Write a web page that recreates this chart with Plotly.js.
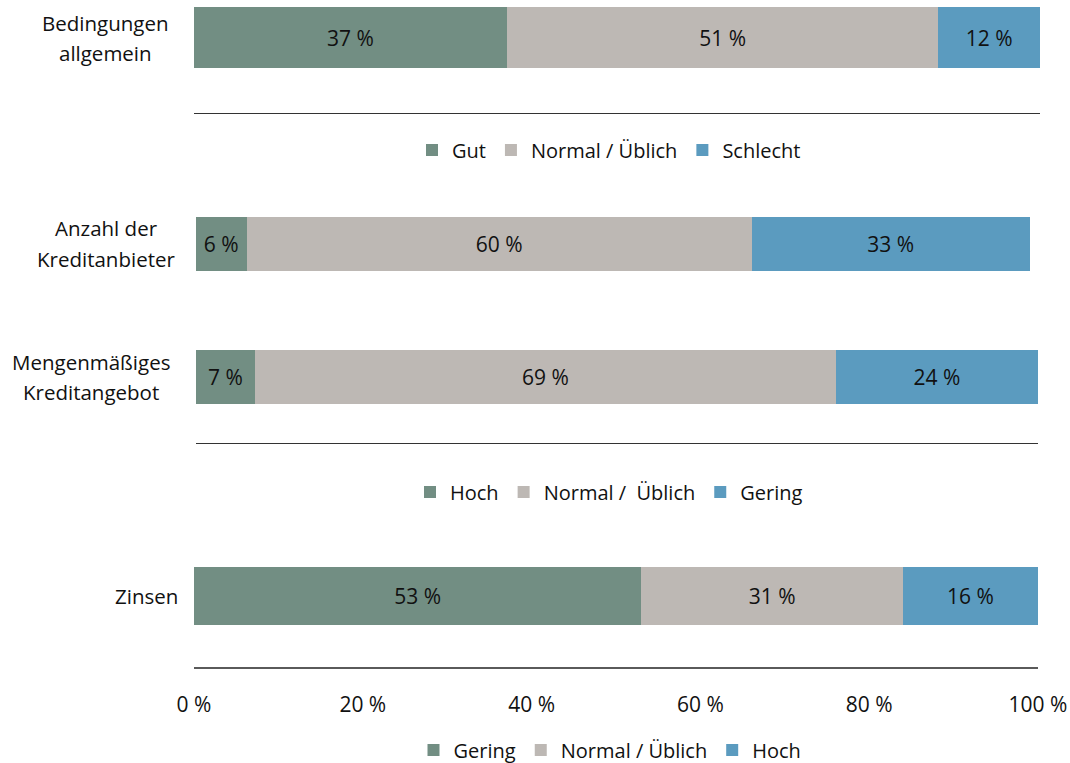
<!DOCTYPE html>
<html>
<head>
<meta charset="utf-8">
<script src="https://cdn.plot.ly/plotly-3.0.1.min.js"></script>
<style>
  html, body { margin: 0; padding: 0; background: #ffffff; }
  #chart { width: 1070px; height: 763px; }
</style>
</head>
<body>
<div id="chart"></div>
<script>
// ---- Data ----
// Panel 1: general conditions
const cat1 = ["Bedingungen\nallgemein"];
const names1 = ["Gut", "Normal / Üblich", "Schlecht"];
const gut1 = [37];
const normal1 = [51];
const schlecht1 = [12];

// Panel 2: number of lenders / credit supply
const cat2 = ["Mengenmäßiges\nKreditangebot", "Anzahl der\nKreditanbieter"];
const names2 = ["Hoch", "Normal /\u00a0 Üblich", "Gering"];
const hoch2 = [7, 6];
const normal2 = [69, 60];
const gering2 = [24, 33];

// Panel 3: interest rates
const cat3 = ["Zinsen"];
const names3 = ["Gering", "Normal / Üblich", "Hoch"];
const gering3 = [53];
const normal3 = [31];
const hoch3 = [16];

// Axis ticks (shared scale 0–100 %)
const tickVals = [0, 20, 40, 60, 80, 100];
const tickText = ["0 %", "20 %", "40 %", "60 %", "80 %", "100 %"];

// ---- Styling ----
const W = 1070, H = 763;
const COLORS = ["#728e83", "#bdb8b4", "#5b9bbf"];
const FONT = "Open Sans, Liberation Sans, Arial, sans-serif";
const TXT = "#111111";
const px = v => v / W;
const py = v => 1 - v / H;

// vertical band of a panel: top/bottom pixel of the plot area, with
// category centres given in pixels (bottom-most category first)
function yBand(topPx, botPx, centersPx) {
  const unit = centersPx.length > 1 ? (centersPx[0] - centersPx[1]) : 100;
  return {
    domain: [py(botPx), py(topPx)],
    range: [-(botPx - centersPx[0]) / unit, (centersPx.length - 1) + (centersPx[centersPx.length - 1] - topPx) / unit],
    unit: unit
  };
}

const b1 = yBand(0, 113, [37.5]);
const b2 = yBand(180, 443, [377, 243.5]);
const b3 = yBand(530, 667, [596]);

function bars(cats, series, names, xa, ya, legend, barPx, unit) {
  return series.map((vals, i) => ({
    type: "bar",
    orientation: "h",
    y: cats,
    x: vals,
    name: names[i],
    xaxis: xa,
    yaxis: ya,
    legend: legend,
    width: barPx / unit,
    marker: { color: COLORS[i], line: { width: 0 } },
    texttemplate: "%{x} %",
    textposition: "inside",
    insidetextanchor: "middle",
    constraintext: "none",
    textfont: { family: FONT, size: 21, color: TXT },
    hoverinfo: "skip"
  }));
}

const traces = [
  ...bars(cat1, [gut1, normal1, schlecht1], names1, "x", "y", "legend", 61, b1.unit),
  ...bars(cat2, [hoch2, normal2, gering2], names2, "x2", "y2", "legend2", 54, b2.unit),
  ...bars(cat3, [gering3, normal3, hoch3], names3, "x3", "y3", "legend3", 58, b3.unit)
];

function xAxis(l, r, anchor, opts) {
  return Object.assign({
    domain: [px(l), px(r)],
    range: [0, 100],
    anchor: anchor,
    showgrid: false,
    zeroline: false,
    showline: true,
    linecolor: "#333333",
    linewidth: 1.3,
    showticklabels: false,
    ticks: "",
    fixedrange: true
  }, opts || {});
}

function yAxis(band, anchor, cats) {
  return {
    domain: band.domain,
    range: band.range,
    anchor: anchor,
    type: "category",
    categoryarray: cats,
    categoryorder: "array",
    showgrid: false,
    zeroline: false,
    showline: false,
    showticklabels: false,
    ticks: "",
    fixedrange: true
  };
}

// category labels: one centred block per bar, lines 30 px apart
const labelCenters = [
  { cat: cat1[0], yref: "y", x: 105 },
  { cat: cat2[1], yref: "y2", x: 106 },
  { cat: cat2[0], yref: "y2", x: 91 },
  { cat: cat3[0], yref: "y3", x: 146 }
];
const annotations = [];
labelCenters.forEach(l => {
  const lines = l.cat.split("\n");
  lines.forEach((t, k) => {
    annotations.push({
      text: t,
      xref: "paper", x: px(l.x), xanchor: "center",
      yref: l.yref, y: l.cat, yanchor: "middle",
      yshift: ((lines.length - 1) / 2 - k) * 30,
      showarrow: false,
      font: { family: FONT, size: 20.5, color: TXT }
    });
  });
});

function legendAt(cx, cy) {
  return {
    orientation: "h",
    x: px(cx), xanchor: "center",
    y: py(cy), yanchor: "middle",
    font: { family: FONT, size: 20, color: TXT },
    bgcolor: "rgba(0,0,0,0)",
    itemwidth: 30,
    tracegroupgap: 0,
    traceorder: "normal"
  };
}

const layout = {
  width: W,
  height: H,
  margin: { l: 0, r: 0, t: 0, b: 0, autoexpand: false },
  paper_bgcolor: "#ffffff",
  plot_bgcolor: "#ffffff",
  barmode: "stack",
  showlegend: true,
  font: { family: FONT, color: TXT },
  xaxis: xAxis(194, 1040, "y"),
  yaxis: yAxis(b1, "x", cat1),
  xaxis2: xAxis(196, 1038, "y2"),
  yaxis2: yAxis(b2, "x2", cat2),
  xaxis3: xAxis(194, 1038, "y3", {
    linecolor: "#5a5a5a",
    linewidth: 2,
    showticklabels: true,
    tickvals: tickVals,
    ticktext: tickText,
    ticks: "outside",
    ticklen: 18,
    tickcolor: "rgba(0,0,0,0)",
    tickfont: { family: FONT, size: 21, color: TXT }
  }),
  yaxis3: yAxis(b3, "x3", cat3),
  legend: legendAt(609, 150),
  legend2: legendAt(609, 492),
  legend3: legendAt(610, 750),
  annotations: annotations,
  hovermode: false
};

Plotly.newPlot("chart", traces, layout, { staticPlot: true, displayModeBar: false });
</script>
</body>
</html>
